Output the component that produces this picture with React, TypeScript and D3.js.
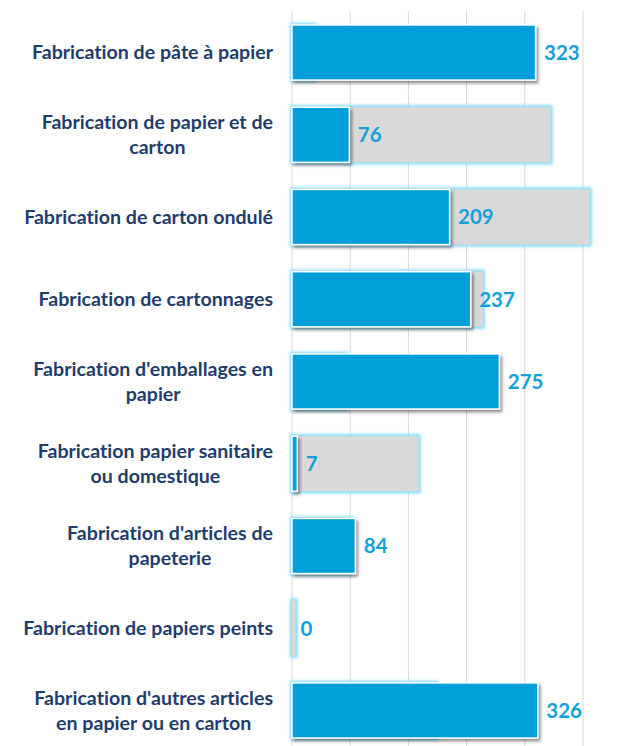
import * as d3 from 'd3';
import React, { useEffect, useRef } from 'react';

// secteurs (libellés coupés comme dans le graphique d'origine)
const categories = [
    'Fabrication de pâte à papier',
    'Fabrication de papier et de carton',
    'Fabrication de carton ondulé',
    'Fabrication de cartonnages',
    "Fabrication d'emballages en papier",
    'Fabrication papier sanitaire ou domestique',
    "Fabrication d'articles de papeterie",
    'Fabrication de papiers peints',
    "Fabrication d'autres articles en papier ou en carton",
];
const categoryLines = [
    ['Fabrication de pâte à papier'],
    ['Fabrication de papier et de', 'carton'],
    ['Fabrication de carton ondulé'],
    ['Fabrication de cartonnages'],
    ["Fabrication d'emballages en", 'papier'],
    ['Fabrication papier sanitaire', 'ou domestique'],
    ["Fabrication d'articles de", 'papeterie'],
    ['Fabrication de papiers peints'],
    ["Fabrication d'autres articles", 'en papier ou en carton'],
];
const mainValues = [323, 76, 209, 237, 275, 7, 84, 0, 326];
const backValues = [30, 343, 395, 253, 72, 168, 80, 5, 192];
const gridTicks = [0, 1, 2, 3, 4, 5];

const width = 621;
const height = 746;
const labelRight = 273;
const lineHeight = 25;

export default function App() {
    const labelsRef = useRef<SVGGElement>(null);

    const x = d3.scaleLinear().domain([0, 400]).range([292, 593.6]);
    const xGrid = d3.scaleLinear().domain([0, 5]).range([292, 583]);
    const y = d3
        .scaleBand()
        .domain(categories)
        .range([11.4, 751.6])
        .paddingInner(0.33)
        .paddingOuter(0.165);

    useEffect(() => {
        const g = d3.select(labelsRef.current);
        g.selectAll('*').remove();
        categories.forEach((c, i) => {
            const lines = categoryLines[i];
            const cy = y(c)! + y.bandwidth() / 2;
            const t = g
                .append('text')
                .attr('text-anchor', 'middle')
                .style('font-family', 'Lato, sans-serif')
                .style('font-weight', 700)
                .style('font-size', '19.6px')
                .style('font-variant-ligatures', 'none')
                .attr('fill', '#1f3d6b');
            const spans = lines.map((l, j) =>
                t
                    .append('tspan')
                    .attr('y', cy + (j - (lines.length - 1) / 2) * lineHeight)
                    .attr('dy', '0.34em')
                    .text(l),
            );
            const w = d3.max(spans, (s) => (s.node() as SVGTSpanElement).getComputedTextLength())!;
            spans.forEach((s) => s.attr('x', labelRight - w / 2));
        });
    }, []);

    return (
        <svg width={width} height={height} style={{ position: 'absolute', left: 0, top: 0 }}>
            <defs>
                <filter id="glow" filterUnits="userSpaceOnUse" x={0} y={0} width={width} height={height + 20}>
                    <feMorphology in="SourceAlpha" operator="dilate" radius={2.2} result="d" />
                    <feGaussianBlur in="d" stdDeviation={1.8} result="b" />
                    <feFlood floodColor="#7fd9fa" floodOpacity={1} />
                    <feComposite in2="b" operator="in" result="g" />
                    <feMerge>
                        <feMergeNode in="g" />
                        <feMergeNode in="SourceGraphic" />
                    </feMerge>
                </filter>
                <filter id="shadow" filterUnits="userSpaceOnUse" x={0} y={0} width={width} height={height + 20}>
                    <feDropShadow dx={2} dy={2.5} stdDeviation={1.4} floodColor="#000" floodOpacity={0.45} />
                </filter>
            </defs>
            {gridTicks.map((t) => (
                <line key={t} x1={xGrid(t)} x2={xGrid(t)} y1={11} y2={height} stroke="#d9d9d9" strokeWidth={1} />
            ))}
            {categories.map((c, i) => (
                <rect
                    key={'b' + i}
                    x={x(0)}
                    y={y(c)}
                    width={x(backValues[i]) - x(0)}
                    height={y.bandwidth()}
                    fill="#d9d9d9"
                    filter="url(#glow)"
                />
            ))}
            {categories.map((c, i) =>
                mainValues[i] > 0 ? (
                    <rect
                        key={'m' + i}
                        x={x(0)}
                        y={y(c)}
                        width={x(mainValues[i]) - x(0)}
                        height={y.bandwidth()}
                        fill="#009fd9"
                        stroke="#fff"
                        strokeWidth={1.5}
                        filter="url(#shadow)"
                    />
                ) : null,
            )}
            {categories.map((c, i) => (
                <text
                    key={'v' + i}
                    x={x(mainValues[i]) + 8.5}
                    y={y(c)! + y.bandwidth() / 2}
                    dy="0.36em"
                    fill="#12a0d8"
                    style={{ fontFamily: 'Lato, sans-serif', fontWeight: 700, fontSize: '20.5px' }}
                >
                    {mainValues[i]}
                </text>
            ))}
            <g ref={labelsRef} />
        </svg>
    );
}
